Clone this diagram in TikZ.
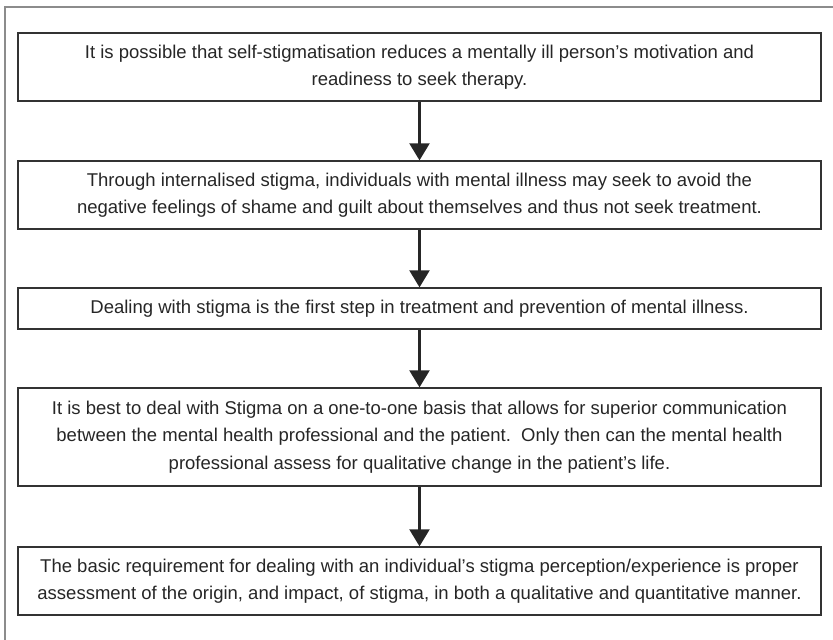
\documentclass[tikz,border=0pt]{standalone}
\usepackage{fontspec}
\setmainfont{Liberation Sans}
\usetikzlibrary{arrows.meta}
\definecolor{boxline}{HTML}{333333}
\definecolor{boxtext}{HTML}{262626}
\definecolor{frameline}{HTML}{8C8C8C}
\tikzset{
  stepbox/.style={draw=boxline, line width=1.3pt, minimum width=803pt, inner sep=0pt,
    align=center, text=boxtext, font=\fontsize{18.5}{27.5}\selectfont},
  flowarrow/.style={draw=black!85, line width=2.2pt,
    -{Triangle[width=20pt,length=17pt]}},
}
\begin{document}
\begin{tikzpicture}[x=1pt,y=1pt]
\useasboundingbox (0,0) rectangle (833,-640);
\draw[frameline, line width=1.5pt] (833,-7) -- (5,-7) -- (5,-640);
\node[stepbox, minimum height=68pt] (motivation) at (419.5,-67){It is possible that self-stigmatisation reduces a mentally ill person’s motivation and\\readiness to seek therapy.};
\node[stepbox, minimum height=68pt] (avoidance) at (419.5,-195){Through internalised stigma, individuals with mental illness may seek to avoid the\\negative feelings of shame and guilt about themselves and thus not seek treatment.};
\node[stepbox, minimum height=41pt] (firststep) at (419.5,-308.5){Dealing with stigma is the first step in treatment and prevention of mental illness.};
\node[stepbox, minimum height=98pt] (onetoone) at (419.5,-437){It is best to deal with Stigma on a one-to-one basis that allows for superior communication\\between the mental health professional and the patient.\ \ Only then can the mental health\\professional assess for qualitative change in the patient’s life.};
\node[stepbox, minimum height=68pt] (assessment) at (419.5,-581){The basic requirement for dealing with an individual’s stigma perception/experience is proper\\assessment of the origin, and impact, of stigma, in both a qualitative and quantitative manner.};
\draw[flowarrow](motivation) -- (avoidance);
\draw[flowarrow](avoidance) -- (firststep);
\draw[flowarrow](firststep) -- (onetoone);
\draw[flowarrow](onetoone) -- (assessment);
\end{tikzpicture}
\end{document}
